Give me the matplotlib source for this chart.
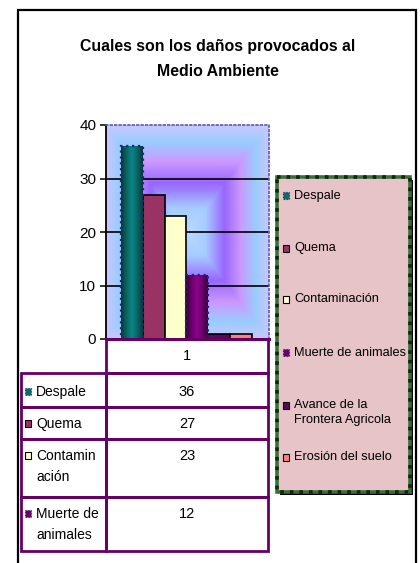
import numpy as np
import matplotlib
matplotlib.use("Agg")
import matplotlib.pyplot as plt
import matplotlib.patches as mpatches
from matplotlib.colors import LinearSegmentedColormap, to_rgb

# ---------------------------------------------------------------------------
# DATA
# ---------------------------------------------------------------------------
TITLE = "Cuales son los daños provocados al\nMedio Ambiente"
categories = ["Despale", "Quema", "Contaminación", "Muerte de animales",
              "Avance de la\nFrontera Agricola", "Erosión del suelo"]
values = [36, 27, 23, 12, 1, 1]
table_labels = ["Despale", "Quema", "Contamin\nación", "Muerte de\nanimales"]
series_name = "1"
yticks = [0, 10, 20, 30, 40]

# ---------------------------------------------------------------------------
# STYLE
# ---------------------------------------------------------------------------
FONT = ["Liberation Sans Narrow", "Liberation Sans", "DejaVu Sans"]
plt.rcParams["font.family"] = FONT

colors = ["#0E6A6A", "#993366", "#FFFFCC", "#6A006A", "#5A0A5A", "#FF8080"]
grad = {0: ("#0B3838", "#0A8585"), 3: ("#3A003A", "#8C008C")}
dotted = {0, 3}
TABLE_C = "#660066"

W, H = 420, 563
fig = plt.figure(figsize=(W / 100, H / 100), dpi=100, facecolor="white")

# overlay in pixel coordinates for frame, table, legend
ov = fig.add_axes([0, 0, 1, 1], zorder=0)
ov.set_xlim(0, W)
ov.set_ylim(H, 0)
ov.axis("off")

# outer chart frame
ov.plot([18, 18, 415.5, 415.5], [H, 10, 10, H], color="black", lw=1.6,
        solid_joinstyle="miter")

fig.text(218 / W, 1 - 59 / H, TITLE, ha="center", va="center",
         fontsize=11.4, fontweight="bold", linespacing=1.75)

# ---------------------------------------------------------------------------
# PLOT AREA
# ---------------------------------------------------------------------------
pl, pr, pt, pb = 106, 269, 125, 339
ax = fig.add_axes([pl / W, 1 - pb / H, (pr - pl) / W, (pb - pt) / H], zorder=2)

x = np.arange(len(values))
bw = 1.0
xlo = -0.5 - 15 / 21.8
xhi = len(values) - 0.5 + 17 / 21.8

# rectangular gradient background
gx = np.linspace(-1, 1, 200)
gy = np.linspace(-1, 1, 260)
GX, GY = np.meshgrid(gx, gy)
D = np.maximum(np.abs(GX), np.abs(GY))
bg_cmap = LinearSegmentedColormap.from_list("bg", [
    (0.0, "#B8D8FF"), (0.22, "#A6CCFF"), (0.45, "#9966FF"),
    (0.66, "#CC99FF"), (0.84, "#99CCFF"), (1.0, "#C8C8FF")])
ax.imshow(D, cmap=bg_cmap, extent=(xlo, xhi, 0, 40), aspect="auto",
          origin="lower", zorder=0, interpolation="bilinear")

bars = ax.bar(x, values, width=bw, color=colors, zorder=3)
for i, b in enumerate(bars):
    if i in dotted:
        b.set_edgecolor("#1A2A70")
        b.set_linestyle(":")
        b.set_linewidth(1.6)
        dark, light = (np.array(to_rgb(c)) for c in grad[i])
        t = np.abs(np.linspace(-1, 1, 60)) ** 1.2
        row = dark[None, :] * t[:, None] + light[None, :] * (1 - t[:, None])
        img = np.tile(row[None, :, :], (2, 1, 1))
        im = ax.imshow(img, extent=(b.get_x(), b.get_x() + b.get_width(), 0, b.get_height()),
                       aspect="auto", zorder=3.5, interpolation="bilinear")
        im.set_clip_path(b)
        b.set_zorder(4)
        b.set_facecolor("none")
    else:
        b.set_edgecolor("black")
        b.set_linewidth(1.2)

ax.set_xlim(xlo, xhi)
ax.set_ylim(0, 40)
ax.set_yticks(yticks)
ax.set_xticks([])
ax.tick_params(axis="y", length=4, width=1.1, direction="out", labelsize=11, pad=3)
for yv in yticks[1:-1]:
    ax.axhline(yv, color="black", lw=1.2, zorder=2)

ax.spines["left"].set_color("black")
ax.spines["left"].set_linewidth(1.3)
for s in ("top", "right"):
    ax.spines[s].set_color("#5A5AB0")
    ax.spines[s].set_linestyle(":")
    ax.spines[s].set_linewidth(1.2)
ax.spines["bottom"].set_color(TABLE_C)
ax.spines["bottom"].set_linewidth(2.2)
for s in ax.spines.values():
    s.set_zorder(6)

# ---------------------------------------------------------------------------
# DATA TABLE
# ---------------------------------------------------------------------------
c0, c1, c2 = 21, 106, 268
row_edges = [373, 407, 439, 497, 551]

ov.add_patch(mpatches.Rectangle((c1, pb), c2 - c1, row_edges[0] - pb,
                                fill=False, edgecolor=TABLE_C, lw=2))
ov.text((c1 + c2) / 2, 356, series_name, ha="center", va="center", fontsize=10.5)

for i, lab in enumerate(table_labels):
    y0, y1 = row_edges[i], row_edges[i + 1]
    off = 11 if i else 13
    ov.add_patch(mpatches.Rectangle((c0, y0), c1 - c0, y1 - y0, fill=False,
                                    edgecolor=TABLE_C, lw=2))
    ov.add_patch(mpatches.Rectangle((c1, y0), c2 - c1, y1 - y0, fill=False,
                                    edgecolor=TABLE_C, lw=2))
    ov.add_patch(mpatches.Rectangle((25, y0 + off + 2), 6, 7, facecolor=colors[i],
                                    edgecolor="#1A2A70" if i in dotted else "black",
                                    lw=0.8, linestyle=":" if i in dotted else "-"))
    ov.text(36, y0 + off - 1, lab, ha="left", va="top", fontsize=10,
            linespacing=1.6)
    ov.text((c1 + c2) / 2, y0 + off - 1, str(values[i]), ha="center", va="top",
            fontsize=10.5)

# ---------------------------------------------------------------------------
# LEGEND BOX
# ---------------------------------------------------------------------------
lx0, lx1, ly0, ly1 = 277, 410, 177, 492
ov.add_patch(mpatches.Rectangle((lx0 + 3, ly0 + 3), lx1 - lx0, ly1 - ly0,
                                facecolor="black", edgecolor="none"))
ov.add_patch(mpatches.Rectangle((lx0, ly0), lx1 - lx0, ly1 - ly0,
                                facecolor="#E6C4C7", edgecolor="#3C6E3C", lw=2.6))
ov.add_patch(mpatches.Rectangle((lx0, ly0), lx1 - lx0, ly1 - ly0,
                                fill=False, edgecolor="#0C2A0C", lw=2.6, linestyle=":"))

leg_y = [195, 248, 299, 352, 405, 457]
for i, lab in enumerate(categories):
    ov.add_patch(mpatches.Rectangle((283, leg_y[i] - 3.5), 6, 7, facecolor=colors[i],
                                    edgecolor="#1A2A70" if i in dotted else "black",
                                    lw=0.8, linestyle=":" if i in dotted else "-"))
    ov.text(294, leg_y[i] - 5.5, lab, ha="left", va="top", fontsize=9.2,
            linespacing=1.3)

fig.savefig("out.png", dpi=100, facecolor="white")
